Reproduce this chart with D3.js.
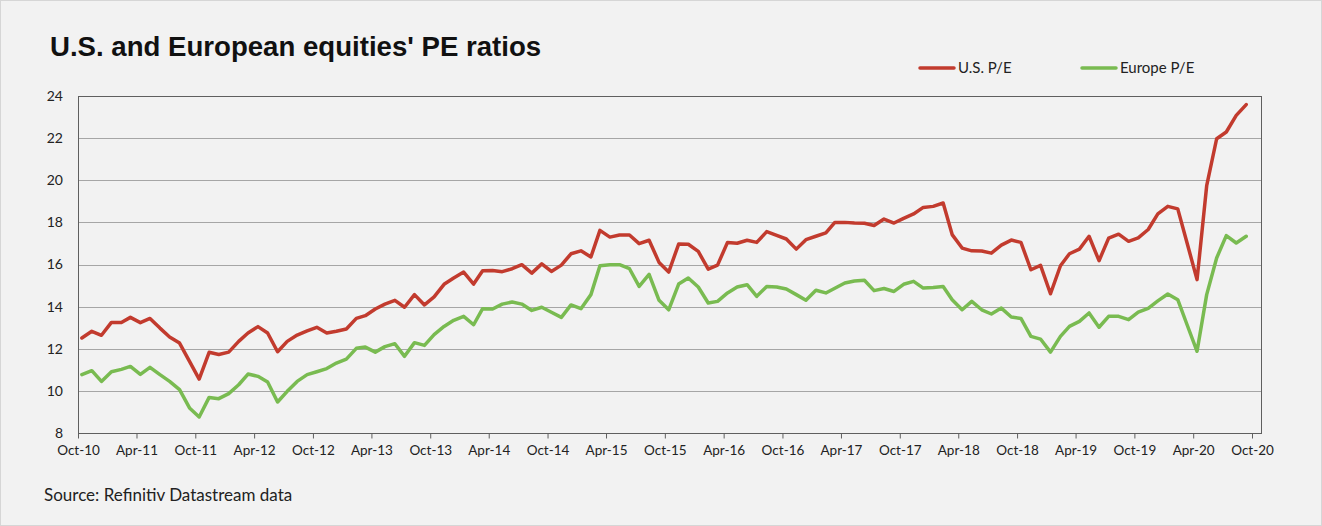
<!DOCTYPE html>
<html><head><meta charset="utf-8">
<script src="https://cdn.jsdelivr.net/npm/d3@7"></script>
<style>
html,body{margin:0;padding:0;background:#f2f2f2;}
svg{display:block;}
</style></head>
<body>
<svg id="chart" width="1322" height="526"></svg>
<script>
const title = "U.S. and European equities' PE ratios";
const source = "Source: Refinitiv Datastream data";
const seriesNames = ["U.S. P/E", "Europe P/E"];
const startMonth = "2010-10";
const usPE = [12.51,12.83,12.64,13.25,13.25,13.49,13.24,13.44,12.98,12.56,12.27,11.40,10.56,11.83,11.73,11.84,12.35,12.75,13.05,12.75,11.86,12.35,12.65,12.85,13.02,12.75,
  12.83,12.94,13.44,13.57,13.89,14.12,14.30,13.97,14.57,14.08,14.46,15.06,15.36,15.64,15.07,15.70,15.72,15.66,15.80,15.99,15.59,16.03,15.67,15.97,16.51,16.65,16.36,17.62,
  17.30,17.40,17.40,16.99,17.15,16.10,15.64,16.97,16.96,16.62,15.78,15.97,17.05,17.01,17.15,17.05,17.56,17.38,17.21,16.73,17.18,17.34,17.50,18.00,18.00,17.97,17.96,17.85,
  18.16,17.97,18.19,18.40,18.71,18.76,18.92,17.42,16.78,16.65,16.64,16.54,16.92,17.16,17.05,15.75,15.96,14.61,15.94,16.51,16.73,17.34,16.18,17.25,17.44,17.10,17.26,17.66,
  18.40,18.76,18.64,17.02,15.28,19.74,21.97,22.29,23.08,23.59];
const europePE = [10.77,10.96,10.45,10.91,11.02,11.16,10.78,11.12,10.77,10.45,10.06,9.19,8.76,9.69,9.63,9.87,10.29,10.80,10.69,10.42,9.47,9.98,10.45,10.77,10.91,11.06,
  11.32,11.51,12.02,12.08,11.84,12.10,12.24,11.64,12.29,12.16,12.67,13.06,13.35,13.54,13.14,13.90,13.89,14.12,14.22,14.12,13.82,13.97,13.73,13.49,14.08,13.90,14.57,15.94,
  15.99,15.99,15.80,14.96,15.53,14.30,13.85,15.07,15.36,14.93,14.17,14.25,14.65,14.93,15.04,14.49,14.96,14.93,14.84,14.57,14.30,14.78,14.65,14.87,15.12,15.22,15.25,14.76,
  14.86,14.72,15.06,15.20,14.88,14.91,14.96,14.33,13.85,14.25,13.85,13.65,13.93,13.51,13.44,12.59,12.46,11.84,12.59,13.06,13.30,13.70,13.02,13.54,13.54,13.38,13.74,13.92,
  14.27,14.60,14.33,13.14,11.88,14.57,16.31,17.37,17.02,17.34];
const tickLabels = ["Oct-10","Apr-11","Oct-11","Apr-12","Oct-12","Apr-13","Oct-13","Apr-14","Oct-14","Apr-15","Oct-15","Apr-16","Oct-16","Apr-17","Oct-17","Apr-18","Oct-18","Apr-19","Oct-19","Apr-20","Oct-20"];
const yTicks = [8,10,12,14,16,18,20,22,24];
const colors = ["#c23b2e", "#79bb51"];

const svg = d3.select("#chart");
const W = 1322, H = 526;
const plot = {l:78, r:1261, t:96, b:433};

svg.append("rect").attr("x",0.5).attr("y",0.5).attr("width",W-1).attr("height",H-1)
  .attr("fill","#f2f2f2").attr("stroke","#d6d6d6");

const parseMonth = d3.timeParse("%Y-%m");
const parseTick = d3.timeParse("%b-%y");
const start = parseMonth(startMonth);
const dates = usPE.map((_, i) => d3.timeDay.offset(d3.timeMonth.offset(start, i), 12));
const tickDates = tickLabels.map(parseTick);

const x = d3.scaleTime()
  .domain([start, d3.timeDay.offset(d3.timeMonth.offset(start,120), 28)])
  .range([plot.l, plot.r]);
const y = d3.scaleLinear().domain([8,24]).range([plot.b, plot.t]);

// gridlines
svg.append("g").selectAll("line").data(yTicks.filter(v=>v>8 && v<24)).join("line")
  .attr("x1",plot.l).attr("x2",plot.r)
  .attr("y1",d=>Math.round(y(d))+0.5).attr("y2",d=>Math.round(y(d))+0.5)
  .attr("stroke","#a6a6a6").attr("stroke-width",1);

// frame
const frameColor = "#5f5f5f";
svg.append("rect").attr("x",plot.l+0.5).attr("y",plot.t+0.5)
  .attr("width",plot.r-plot.l).attr("height",plot.b-plot.t)
  .attr("fill","none").attr("stroke",frameColor).attr("stroke-width",1);

// y axis labels
const yAxis = d3.axisLeft(y).tickValues(yTicks).tickSize(0).tickPadding(15);
const gy = svg.append("g").attr("transform",`translate(${plot.l},0)`).call(yAxis);
gy.select(".domain").remove();
gy.selectAll("text").attr("font-family","Lato, 'Open Sans', sans-serif").attr("font-size",14).attr("fill","#222");

// x axis
const xAxis = d3.axisBottom(x).tickValues(tickDates).tickFormat((d,i)=>tickLabels[i]).tickSize(5).tickPadding(7);
const gx = svg.append("g").attr("transform",`translate(0,${plot.b+0.5})`).call(xAxis);
gx.select(".domain").remove();
gx.selectAll("line").attr("stroke",frameColor);
gx.selectAll("text").attr("font-family","Lato, 'Open Sans', sans-serif").attr("font-size",13.5).attr("fill","#222");

// lines
const line = d3.line().x((d,i)=>x(dates[i])).y(d=>y(d));
[usPE, europePE].forEach((s, k) => {
  svg.append("path").datum(s).attr("d", line)
    .attr("fill","none").attr("stroke",colors[k]).attr("stroke-width",3.5)
    .attr("stroke-linejoin","round").attr("stroke-linecap","round");
});

// title
svg.append("text").attr("x",50).attr("y",56).text(title)
  .attr("font-family","'Liberation Sans Narrow', 'Arial Narrow', 'Liberation Sans', sans-serif")
  .attr("font-weight","bold").attr("font-size",27.6).attr("fill","#111");

// legend
const legendX = [920, 1082];
seriesNames.forEach((n,k)=>{
  const g = svg.append("g").attr("transform",`translate(${legendX[k]},68)`);
  g.append("line").attr("x1",0).attr("x2",34).attr("y1",0).attr("y2",0)
    .attr("stroke",colors[k]).attr("stroke-width",3.5).attr("stroke-linecap","round");
  g.append("text").attr("x",38).attr("y",5).text(n)
    .attr("font-family","Lato, 'Open Sans', sans-serif").attr("font-size",15).attr("fill","#222");
});

// source
svg.append("text").attr("x",44).attr("y",501).text(source)
  .attr("font-family","Lato, 'Open Sans', sans-serif").attr("font-size",17).attr("fill","#222");
</script>
</body></html>
